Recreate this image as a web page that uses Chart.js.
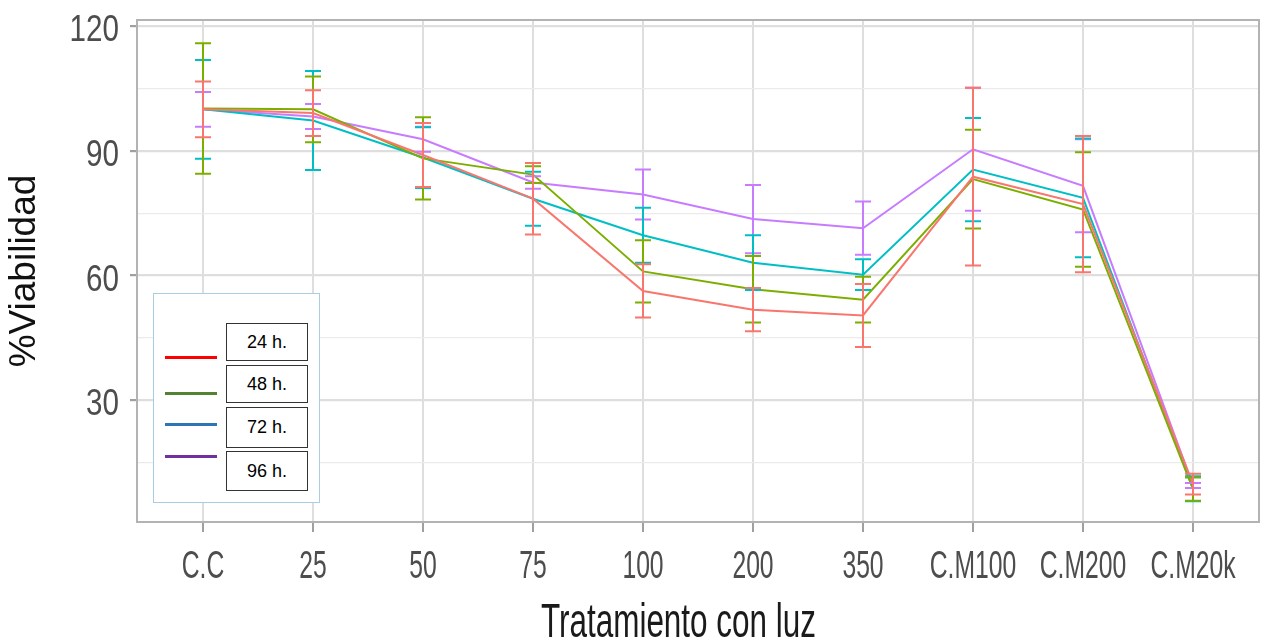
<!DOCTYPE html>
<html>
<head>
<meta charset="utf-8">
<script src="https://cdn.jsdelivr.net/npm/chart.js@4/dist/chart.umd.min.js"></script>
<style>
  body { margin: 0; background: #fff; }
  #wrap { position: relative; width: 1266px; height: 644px; overflow: hidden; }
  #xtitle { position: absolute; left: 541px; top: 597px; font: 48px "Liberation Sans", Arial, sans-serif;
            line-height: 48px; color: #1a1a1a; white-space: nowrap; transform: scaleX(0.655); transform-origin: 0 0; }
  #legend { position: absolute; left: 153px; top: 293px; width: 165px; height: 208px; border: 1px solid #a9cde2; background: #fff; }
  .lg-line { position: absolute; left: 11px; width: 52px; height: 3px; }
  .lg-box { position: absolute; left: 72px; width: 80px; border: 1px solid #333; background: #fff;
            font: 18px "Liberation Sans", Arial, sans-serif; color: #000; text-align: center; }
</style>
</head>
<body>
<div id="wrap">
  <canvas id="chart" width="1266" height="644"></canvas>
  <div id="xtitle">Tratamiento con luz</div>
  <div id="legend">
    <div class="lg-line" style="top:62px;background:#ff0000"></div>
    <div class="lg-line" style="top:98px;background:#548235"></div>
    <div class="lg-line" style="top:129px;background:#2e75b6"></div>
    <div class="lg-line" style="top:161px;background:#7030a0"></div>
    <div class="lg-box" style="top:29px;height:36px;line-height:36px">24 h.</div>
    <div class="lg-box" style="top:71px;height:36px;line-height:36px">48 h.</div>
    <div class="lg-box" style="top:113px;height:39px;line-height:39px">72 h.</div>
    <div class="lg-box" style="top:157px;height:38px;line-height:38px">96 h.</div>
  </div>
</div>
<script>
const labels = ["C.C", "25", "50", "75", "100", "200", "350", "C.M100", "C.M200", "C.M20k"];

const h24 = [100, 99.1, 89, 78.5, 56.3, 51.8, 50.4, 83.8, 77.2, 9.8];
const h24err = [6.7, 5.5, 7.7, 8.6, 6.4, 5.2, 7.6, 21.4, 16.4, 2.5];
const h48 = [100.2, 100, 88.2, 84.3, 61, 56.7, 54.2, 83.2, 75.9, 8.6];
const h48err = [15.7, 7.9, 9.9, 2, 7.5, 8, 5.5, 11.9, 13.8, 2.8];
const h72 = [100, 97.3, 88.4, 78.5, 69.7, 63.1, 60.2, 85.5, 78.7, 8.7];
const h72err = [11.9, 11.9, 7.3, 6.5, 6.6, 6.6, 3.7, 12.4, 14.3, 3];
const h96 = [100, 98.3, 92.8, 82.4, 79.5, 73.6, 71.4, 90.4, 81.6, 9.5];
const h96err = [4.2, 3, 3, 1.5, 6, 8.2, 6.4, 14.8, 11.2, 0.6];

const yTicks = [15, 30, 45, 60, 75, 90, 105, 120];

function toPoints(arr) {
  return arr.map((v, i) => ({ x: i, y: v }));
}

function makeSet(name, data, err, color) {
  return {
    label: name,
    data: toPoints(data),
    err: err,
    borderColor: color,
    backgroundColor: color,
    borderWidth: 2,
    pointRadius: 0,
    tension: 0
  };
}

// error bars on top of the lines, last series first so red ends on top
const errorBars = {
  id: "errorBars",
  afterDatasetsDraw(chart) {
    const ctx = chart.ctx;
    const xs = chart.scales.x;
    const ys = chart.scales.y;
    ctx.save();
    for (let d = chart.data.datasets.length - 1; d >= 0; d--) {
      const ds = chart.data.datasets[d];
      ctx.strokeStyle = ds.borderColor;
      ctx.lineWidth = 2;
      ds.data.forEach((p, i) => {
        const x = xs.getPixelForValue(p.x);
        const top = ys.getPixelForValue(p.y + ds.err[i]);
        const bot = ys.getPixelForValue(p.y - ds.err[i]);
        ctx.beginPath();
        ctx.moveTo(x, top); ctx.lineTo(x, bot);
        ctx.moveTo(x - 8, top); ctx.lineTo(x + 8, top);
        ctx.moveTo(x - 8, bot); ctx.lineTo(x + 8, bot);
        ctx.stroke();
      });
    }
    // panel border
    const a = chart.chartArea;
    ctx.strokeStyle = "#b3b3b3";
    ctx.lineWidth = 2;
    ctx.strokeRect(a.left, a.top, a.right - a.left, a.bottom - a.top);
    ctx.restore();
  }
};

// tick labels in a squeezed face like the original, placed from the scales
const tickText = {
  id: "tickText",
  afterDraw(chart) {
    const ctx = chart.ctx;
    const xs = chart.scales.x;
    const ys = chart.scales.y;
    ctx.save();
    ctx.fillStyle = "#4d4d4d";
    ctx.textBaseline = "alphabetic";
    ctx.font = '38px "Liberation Sans", Arial';
    ctx.textAlign = "center";
    xs.ticks.forEach(t => {
      ctx.save();
      ctx.translate(xs.getPixelForValue(t.value), 578);
      ctx.scale(0.65, 1);
      ctx.fillText(labels[t.value], 0, 0);
      ctx.restore();
    });
    ctx.font = '37px "Liberation Sans", Arial';
    ctx.textAlign = "right";
    ys.ticks.forEach(t => {
      if (t.value % 30 !== 0) return;
      ctx.save();
      ctx.translate(119, ys.getPixelForValue(t.value) + 15);
      ctx.scale(0.8, 1);
      ctx.fillText(String(t.value), 0, 0);
      ctx.restore();
    });
    ctx.restore();
  }
};

new Chart(document.getElementById("chart"), {
  type: "line",
  data: {
    datasets: [
      makeSet("24 h.", h24, h24err, "#F8766D"),
      makeSet("48 h.", h48, h48err, "#7CAE00"),
      makeSet("72 h.", h72, h72err, "#00BFC4"),
      makeSet("96 h.", h96, h96err, "#C77CFF")
    ]
  },
  options: {
    responsive: false,
    animation: false,
    layout: { padding: { top: 20, right: 7, left: 0, bottom: 0 } },
    plugins: { legend: { display: false }, tooltip: { enabled: false } },
    scales: {
      x: {
        type: "linear",
        min: -0.6,
        max: 9.6,
        afterBuildTicks: s => { s.ticks = labels.map((l, i) => ({ value: i })); },
        afterFit: s => { s.height = 122; },
        border: { display: false },
        grid: { color: "#dedede", lineWidth: 2, tickColor: "#a0a0a0", tickLength: 10 },
        ticks: { display: false }
      },
      y: {
        min: 0.7,
        max: 121.5,
        afterBuildTicks: s => { s.ticks = yTicks.map(v => ({ value: v })); },
        afterFit: s => { s.width = 137; },
        border: { display: false },
        grid: {
          color: c => (c.tick && c.tick.value % 30 === 0 ? "#dedede" : "#ebebeb"),
          lineWidth: c => (c.tick && c.tick.value % 30 === 0 ? 2.2 : 1.2),
          tickColor: c => (c.tick && c.tick.value % 30 === 0 ? "#a0a0a0" : "rgba(0,0,0,0)"),
          tickLength: 7
        },
        ticks: { display: false },
        title: {
          display: true,
          text: "%Viabilidad",
          color: "#111",
          font: { family: "'Liberation Sans', Arial", size: 37 },
          padding: { top: 3, bottom: 0 }
        }
      }
    }
  },
  plugins: [errorBars, tickText]
});
</script>
</body>
</html>
